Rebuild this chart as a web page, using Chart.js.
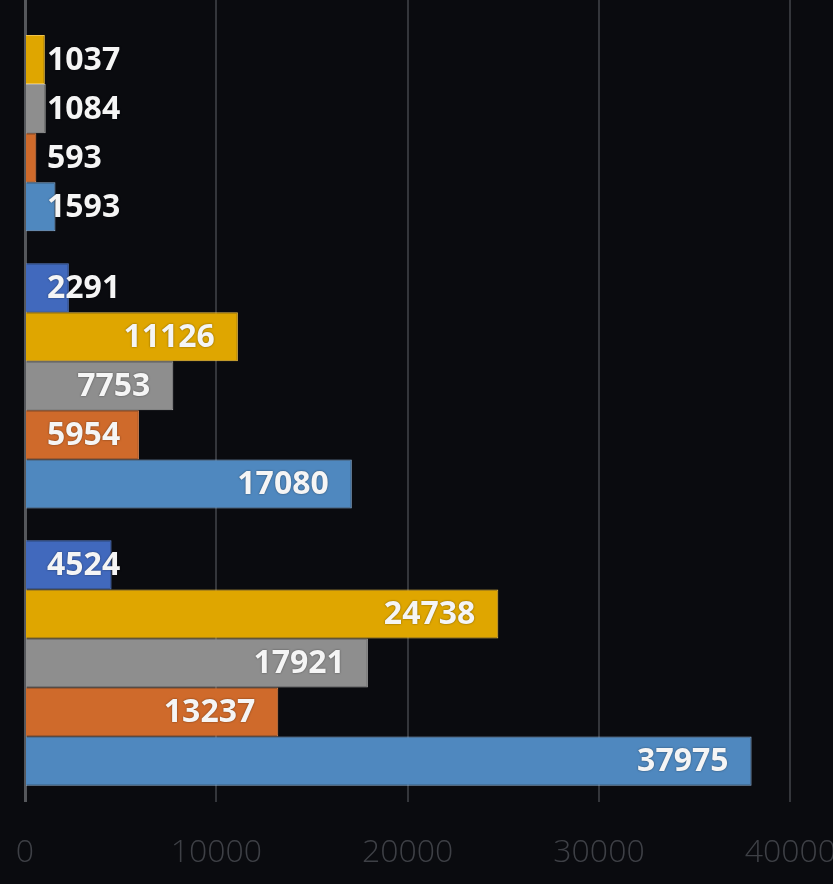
<!DOCTYPE html>
<html>
<head>
<meta charset="utf-8">
<script src="https://cdn.jsdelivr.net/npm/chart.js@4"></script>
<style>
  html, body { margin: 0; padding: 0; background: #0a0b0f; overflow: hidden; }
  body { width: 833px; height: 884px; position: relative; }
  #wrap { position: absolute; left: 0; top: -40px; width: 838px; height: 931px; }
</style>
</head>
<body>
<div id="wrap"><canvas id="chart"></canvas></div>
<script>
// Categories (top to bottom), their names are cropped out of the picture
const categories = ['Group 1', 'Group 2', 'Group 3'];

// Series, drawn top to bottom inside each group
const seriesNames = ['Series 1', 'Series 2', 'Series 3', 'Series 4', 'Series 5'];
const darkBlue  = [null, 2291, 4524];
const yellow    = [1037, 11126, 24738];
const gray      = [1084, 7753, 17921];
const orange    = [593, 5954, 13237];
const lightBlue = [1593, 17080, 37975];

const xTicks = [0, 10000, 20000, 30000, 40000];

const fills   = ['#4169bd', '#dfa600', '#8e8e8e', '#cf6a2b', '#4f88bf'];
const borders = ['#5a80cc', '#f0c24a', '#a8a8a8', '#e08a55', '#8db1d6'];

// value labels: inside the bar end, pushed right of the base when the bar is short
const barLabels = {
    id: 'barLabels',
    afterDatasetsDraw(chart) {
        const ctx = chart.ctx;
        const base = chart.scales.x.getPixelForValue(0);
        ctx.save();
        ctx.font = 'bold 32px "Open Sans", sans-serif';
        ctx.textBaseline = 'middle';
        ctx.fillStyle = '#f5f5f5';
        ctx.shadowColor = 'rgba(0,0,0,0.5)';
        ctx.shadowBlur = 2;
        chart.data.datasets.forEach((ds, i) => {
            const meta = chart.getDatasetMeta(i);
            meta.data.forEach((bar, j) => {
                const v = ds.data[j];
                if (v == null) return;
                const txt = String(v);
                const w = ctx.measureText(txt).width;
                const x = Math.max(base + 22, bar.x - 23 - w);
                ctx.fillText(txt, x, bar.y + 1);
            });
        });
        ctx.restore();
    }
};

const seriesData = [darkBlue, yellow, gray, orange, lightBlue];

new Chart(document.getElementById('chart'), {
    type: 'bar',
    data: {
        labels: categories,
        datasets: seriesData.map((d, i) => ({
            label: seriesNames[i],
            data: d,
            backgroundColor: fills[i],
            borderColor: borders[i],
            borderWidth: 1,
            borderSkipped: 'left',
            barPercentage: 1,
            categoryPercentage: 0.885
        }))
    },
    options: {
        indexAxis: 'y',
        responsive: true,
        maintainAspectRatio: false,
        animation: false,
        layout: { padding: { top: 10, left: 17, right: 0, bottom: 17 } },
        scales: {
            x: {
                min: 0,
                max: 40000,
                afterBuildTicks: axis => { axis.ticks = xTicks.map(v => ({ value: v })); },
                grid: { color: '#34363b', lineWidth: 2, drawTicks: true, tickLength: 30, tickColor: 'rgba(0,0,0,0)' },
                border: { display: false },
                ticks: {
                    color: '#3e4046',
                    padding: 2,
                    maxRotation: 0,
                    callback: v => String(v),
                    font: { family: 'Open Sans', size: 32, weight: '300' }
                }
            },
            y: {
                grid: { display: false },
                border: { display: true, color: '#55575b', width: 3 },
                ticks: { display: false }
            }
        },
        plugins: {
            legend: { display: false },
            tooltip: { enabled: false }
        }
    },
    plugins: [barLabels]
});
</script>
</body>
</html>
